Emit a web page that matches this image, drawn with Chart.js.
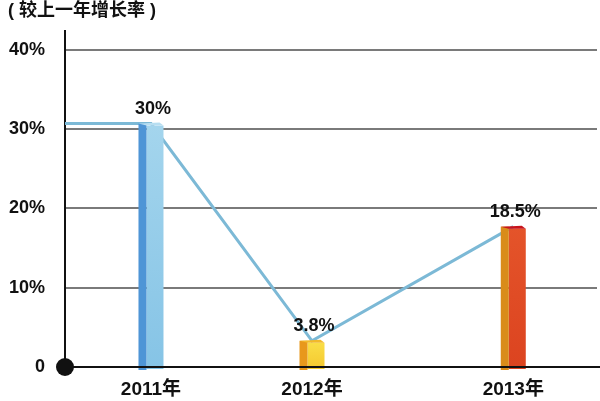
<!DOCTYPE html>
<html>
<head>
<meta charset="utf-8">
<script src="https://cdn.jsdelivr.net/npm/chart.js@4"></script>
<style>
html,body{margin:0;padding:0;background:#fff;}
#wrap{width:600px;height:401px;}
</style>
</head>
<body>
<div id="wrap"><canvas id="c"></canvas></div>
<script>
// ---- data ----
const years = ['2011年', '2012年', '2013年'];
const yearSlots = [1, 2, 3.25];          // category slots on the x axis (uneven spacing as in the picture)
const growth = [30.7, 3.3, 17.7];        // bar heights (%)
const growthLabels = ['30%', '3.8%', '18.5%'];
const trend = [30.7, 30.7, 3.3, 17.7];   // line: starts at the axis, then through each bar top
const yTicks = [0, 10, 20, 30, 40];
const titleText = '( 较上一年增长率 )';

const xMin = 0.466, xMax = 3.77;
const FONT = "'Liberation Sans', 'Noto Sans CJK SC', Arial, sans-serif";

const faces = [
  {left: '#4e95d6', right: ['#a4d5ed', '#86c4e6'], cap: '#b7def1'},
  {left: '#e8981c', right: ['#fadf48', '#f5cb32'], cap: '#f2b92a'},
  {left: '#d98c1a', right: ['#e4542a', '#dc4420'], cap: '#c8141c'}
];

const barPoints = years.map((y, i) => ({x: yearSlots[i], y: growth[i]}));
const linePoints = [{x: xMin, y: trend[0]}].concat(yearSlots.map((s, i) => ({x: s, y: trend[i + 1]})));

const deco = {
  id: 'deco',
  afterDatasetDraw(chart, args) {
    if (args.index !== 0) return;
    const ctx = chart.ctx;
    const meta = chart.getDatasetMeta(0);
    meta.data.forEach((el, i) => {
      const w = el.width, l = el.x - w / 2, r = el.x + w / 2, top = el.y, base = el.base;
      const lw = Math.round(w * 0.3);
      const f = faces[i];
      ctx.save();
      const g = ctx.createLinearGradient(0, top, 0, base);
      g.addColorStop(0, f.right[0]); g.addColorStop(1, f.right[1]);
      ctx.fillStyle = g;
      ctx.fillRect(l + lw, top + 2, w - lw, base - top + 1);
      ctx.fillStyle = f.left;
      ctx.fillRect(l, top, lw, base - top + 4);
      ctx.fillStyle = f.cap;
      ctx.beginPath();
      ctx.moveTo(l, top);
      ctx.lineTo(r - 4, top - 1);
      ctx.lineTo(r, top + 2);
      ctx.lineTo(l + lw, top + 2);
      ctx.closePath();
      ctx.fill();
      ctx.fillStyle = '#111';
      ctx.font = 'bold 18px ' + FONT;
      ctx.textAlign = 'center';
      ctx.textBaseline = 'bottom';
      ctx.fillText(growthLabels[i], el.x + 2, top - 6);
      ctx.restore();
    });
  },
  afterDraw(chart) {
    const ctx = chart.ctx;
    const xs = chart.scales.x, ys = chart.scales.y;
    const y0 = ys.getPixelForValue(0);
    ctx.save();
    ctx.strokeStyle = '#111';
    ctx.lineWidth = 2;
    ctx.beginPath();
    ctx.moveTo(xs.left, y0);
    ctx.lineTo(chart.width, y0);
    ctx.stroke();
    ctx.fillStyle = '#111';
    ctx.beginPath();
    ctx.arc(xs.left, y0, 9, 0, Math.PI * 2);
    ctx.fill();
    // title
    ctx.font = 'bold 18px ' + FONT;
    ctx.textAlign = 'left';
    ctx.textBaseline = 'middle';
    ctx.fillText(titleText, 8, 11);
    ctx.restore();
  }
};

new Chart(document.getElementById('c'), {
  type: 'bar',
  data: {
    datasets: [
      {
        type: 'bar',
        data: barPoints,
        backgroundColor: 'rgba(0,0,0,0)',
        borderWidth: 0,
        barThickness: 25,
        order: 0
      },
      {
        type: 'line',
        data: linePoints,
        borderColor: '#7cb9d6',
        borderWidth: 3,
        pointRadius: 0,
        tension: 0,
        fill: false,
        order: 1
      }
    ]
  },
  options: {
    responsive: true,
    maintainAspectRatio: false,
    animation: false,
    devicePixelRatio: 1,
    layout: {padding: {left: 0, right: 3, top: 27, bottom: 0}},
    plugins: {
      legend: {display: false},
      tooltip: {enabled: false},
      title: {display: false}
    },
    scales: {
      x: {
        type: 'linear',
        offset: false,
        min: xMin,
        max: xMax,
        afterBuildTicks(scale) { scale.ticks = yearSlots.map(v => ({value: v})); },
        afterFit(scale) { scale.height = 34; },
        ticks: {
          callback(v) { const i = yearSlots.indexOf(v); return i >= 0 ? years[i] : ''; },
          color: '#111',
          font: {family: FONT, size: 19, weight: 'bold'},
          padding: 11,
          maxRotation: 0,
          autoSkip: false
        },
        grid: {display: false, drawTicks: false},
        border: {display: true, color: '#111', width: 2}
      },
      y: {
        min: 0,
        max: 42.4,
        afterBuildTicks(scale) { scale.ticks = yTicks.map(v => ({value: v})); },
        afterFit(scale) { scale.width = 65; },
        ticks: {
          callback(v) { return v === 0 ? '0' : v + '%'; },
          color: '#111',
          font: {family: FONT, size: 18, weight: 'bold'},
          padding: 20
        },
        grid: {color: '#7a7a7a', lineWidth: 2, drawTicks: false},
        border: {display: true, color: '#111', width: 2}
      }
    }
  },
  plugins: [deco]
});
</script>
</body>
</html>
